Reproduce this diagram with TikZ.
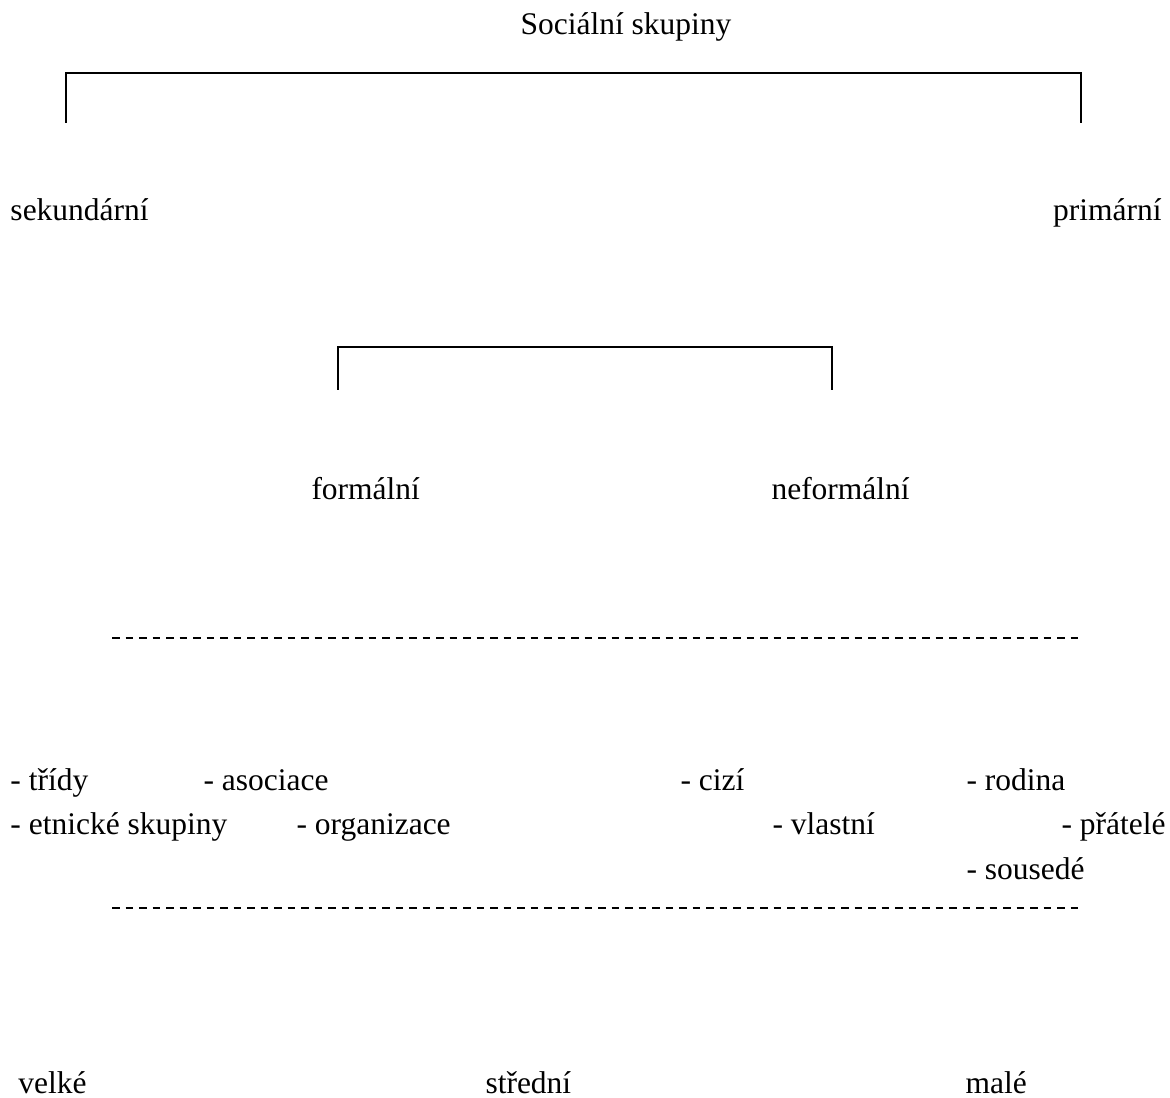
\documentclass[tikz,border=0pt]{standalone}
\usepackage{fontspec}
\setmainfont{Liberation Serif}
\begin{document}
\begin{tikzpicture}[x=0.4pt, y=-0.4pt,
    txt/.style={inner sep=0pt, anchor=base west, font=\fontsize{12.6}{15}\selectfont},
    bracket/.style={line width=0.7pt},
    divider/.style={line width=0.8pt, dash pattern=on 3pt off 2.4pt}]

    \useasboundingbox (0,0) rectangle (1170,1097);

    % title and the first split
    \node[txt, anchor=base] (title) at (626,35) {Sociální skupiny};
    \coordinate (sekfoot) at (66,123);
    \coordinate (primfoot) at (1081,123);
    \draw[bracket] (sekfoot) -- ++(0,-50) -| (primfoot);

    \node[txt] (sekundarni) at (10,221) {sekundární};
    \node[txt, anchor=base east] (primarni) at (1162,221) {primární};

    % second split
    \coordinate (formfoot) at (338,390);
    \coordinate (neformfoot) at (832,390);
    \draw[bracket] (formfoot) -- ++(0,-43) -| (neformfoot);

    \node[txt] (formalni) at (311,499) {formální};
    \node[txt] (neformalni) at (771,499) {neformální};

    % examples
    \coordinate (topdashA) at (112,638);
    \coordinate (topdashB) at (1083,638);
    \draw[divider] (topdashA) -- (topdashB);

    \node[txt] (tridy) at (10,790) {- třídy};
    \node[txt] (asociace) at (203,790) {- asociace};
    \node[txt] (cizi) at (680,790) {- cizí};
    \node[txt] (rodina) at (966,790) {- rodina};

    \node[txt] (etnicke) at (10,834) {- etnické skupiny};
    \node[txt] (organizace) at (296,834) {- organizace};
    \node[txt] (vlastni) at (772,834) {- vlastní};
    \node[txt] (pratele) at (1061,834) {- přátelé};

    \node[txt] (sousede) at (966,879) {- sousedé};

    \coordinate (lowdashA) at (112,908);
    \coordinate (lowdashB) at (1083,908);
    \draw[divider] (lowdashA) -- (lowdashB);

    % size
    \node[txt] (velke) at (18,1093) {velké};
    \node[txt] (stredni) at (485,1093) {střední};
    \node[txt] (male) at (965,1093) {malé};

\end{tikzpicture}
\end{document}
